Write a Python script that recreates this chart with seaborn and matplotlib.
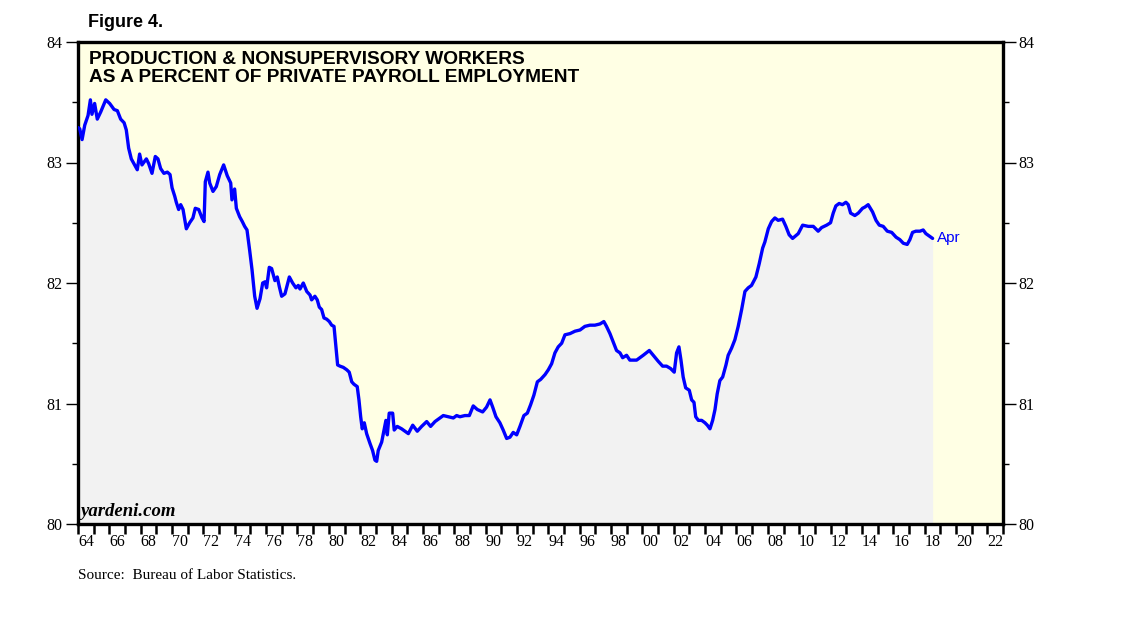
import matplotlib
matplotlib.use("Agg")
import matplotlib.pyplot as plt
import numpy as np
import pandas as pd
import seaborn as sns

# monthly-ish readings (fractional year, percent)
years = [
    1964.00, 1964.11, 1964.26, 1964.43, 1964.64, 1964.79, 1964.89, 1965.06, 1965.23, 1965.45,
    1965.77, 1966.02, 1966.30, 1966.51, 1966.72, 1966.94, 1967.08, 1967.23, 1967.40, 1967.61,
    1967.78, 1967.93, 1968.08, 1968.36, 1968.51, 1968.72, 1968.93, 1969.10, 1969.27, 1969.48,
    1969.70, 1969.87, 1970.00, 1970.17, 1970.27, 1970.42, 1970.55, 1970.70, 1970.91, 1971.12,
    1971.33, 1971.48, 1971.70, 1971.91, 1972.04, 1972.12, 1972.29, 1972.40, 1972.61, 1972.82,
    1973.04, 1973.29, 1973.52, 1973.74, 1973.82, 1973.99, 1974.10, 1974.31, 1974.48, 1974.63,
    1974.78, 1974.95, 1975.10, 1975.27, 1975.42, 1975.61, 1975.78, 1975.93, 1976.03, 1976.20,
    1976.35, 1976.56, 1976.71, 1976.84, 1976.99, 1977.20, 1977.48, 1977.69, 1977.90, 1978.05,
    1978.16, 1978.37, 1978.59, 1978.80, 1978.90, 1979.11, 1979.26, 1979.39, 1979.54, 1979.69,
    1979.86, 1980.03, 1980.18, 1980.33, 1980.45, 1980.56, 1980.71, 1980.92, 1981.14, 1981.30,
    1981.46, 1981.60, 1981.81, 1981.92, 1982.03, 1982.13, 1982.26, 1982.41, 1982.62, 1982.79,
    1982.94, 1983.05, 1983.15, 1983.37, 1983.52, 1983.64, 1983.73, 1983.85, 1984.07, 1984.17,
    1984.36, 1984.64, 1985.07, 1985.35, 1985.64, 1985.92, 1986.24, 1986.49, 1986.77, 1987.09,
    1987.30, 1987.62, 1987.94, 1988.15, 1988.36, 1988.68, 1988.96, 1989.21, 1989.47, 1989.81,
    1990.06, 1990.28, 1990.45, 1990.66, 1990.91, 1991.12, 1991.34, 1991.55, 1991.76, 1991.98,
    1992.19, 1992.44, 1992.66, 1992.87, 1993.08, 1993.30, 1993.51, 1993.79, 1994.00, 1994.21,
    1994.42, 1994.63, 1994.85, 1995.06, 1995.38, 1995.70, 1996.02, 1996.33, 1996.65, 1996.97,
    1997.29, 1997.54, 1997.71, 1997.93, 1998.14, 1998.35, 1998.57, 1998.74, 1998.99, 1999.20,
    1999.63, 2000.05, 2000.44, 2000.69, 2001.01, 2001.29, 2001.54, 2001.80, 2002.03, 2002.18,
    2002.33, 2002.46, 2002.60, 2002.76, 2002.99, 2003.14, 2003.29, 2003.40, 2003.57, 2003.78,
    2003.99, 2004.14, 2004.31, 2004.48, 2004.63, 2004.77, 2004.94, 2005.12, 2005.33, 2005.47,
    2005.69, 2005.90, 2006.11, 2006.33, 2006.54, 2006.75, 2006.96, 2007.24, 2007.45, 2007.67,
    2007.81, 2008.03, 2008.24, 2008.45, 2008.66, 2008.94, 2009.15, 2009.36, 2009.58, 2009.94,
    2010.22, 2010.58, 2010.90, 2011.21, 2011.43, 2011.75, 2012.00, 2012.17, 2012.34, 2012.55,
    2012.76, 2012.98, 2013.13, 2013.28, 2013.55, 2013.77, 2014.04, 2014.19, 2014.40, 2014.68,
    2014.90, 2015.11, 2015.36, 2015.62, 2015.90, 2016.18, 2016.42, 2016.64, 2016.89, 2017.06,
    2017.23, 2017.44, 2017.70, 2017.91, 2018.08, 2018.30, 2018.51,
]
pct = [
    83.29, 83.28, 83.19, 83.31, 83.39, 83.52, 83.40, 83.49, 83.36, 83.42,
    83.52, 83.49, 83.44, 83.43, 83.36, 83.33, 83.27, 83.12, 83.03, 82.98,
    82.94, 83.07, 82.98, 83.03, 82.99, 82.91, 83.05, 83.03, 82.95, 82.91,
    82.92, 82.90, 82.79, 82.72, 82.67, 82.61, 82.65, 82.61, 82.45, 82.50,
    82.54, 82.62, 82.61, 82.54, 82.51, 82.84, 82.92, 82.83, 82.76, 82.80,
    82.90, 82.98, 82.89, 82.83, 82.69, 82.78, 82.62, 82.55, 82.51, 82.47,
    82.44, 82.27, 82.11, 81.89, 81.79, 81.87, 82.00, 82.01, 81.96, 82.13,
    82.12, 82.02, 82.05, 81.97, 81.89, 81.91, 82.05, 82.00, 81.96, 81.98,
    81.95, 82.00, 81.93, 81.90, 81.86, 81.89, 81.86, 81.80, 81.78, 81.71,
    81.70, 81.68, 81.65, 81.64, 81.47, 81.32, 81.31, 81.30, 81.28, 81.26,
    81.18, 81.16, 81.14, 81.03, 80.89, 80.79, 80.84, 80.75, 80.67, 80.61,
    80.53, 80.52, 80.61, 80.68, 80.78, 80.86, 80.74, 80.92, 80.92, 80.78,
    80.81, 80.79, 80.75, 80.82, 80.77, 80.81, 80.85, 80.81, 80.85, 80.88,
    80.90, 80.89, 80.88, 80.90, 80.89, 80.90, 80.90, 80.98, 80.95, 80.93,
    80.97, 81.03, 80.97, 80.89, 80.84, 80.78, 80.71, 80.72, 80.76, 80.74,
    80.81, 80.90, 80.92, 80.99, 81.07, 81.18, 81.20, 81.24, 81.28, 81.33,
    81.42, 81.47, 81.50, 81.57, 81.58, 81.60, 81.61, 81.64, 81.65, 81.65,
    81.66, 81.68, 81.64, 81.58, 81.51, 81.44, 81.42, 81.38, 81.40, 81.36,
    81.36, 81.40, 81.44, 81.40, 81.35, 81.31, 81.31, 81.29, 81.26, 81.42,
    81.47, 81.36, 81.22, 81.13, 81.11, 81.03, 81.01, 80.89, 80.86, 80.86,
    80.84, 80.82, 80.79, 80.86, 80.95, 81.08, 81.19, 81.22, 81.32, 81.40,
    81.46, 81.53, 81.64, 81.78, 81.93, 81.96, 81.98, 82.05, 82.16, 82.29,
    82.34, 82.45, 82.51, 82.54, 82.52, 82.53, 82.47, 82.40, 82.37, 82.41,
    82.48, 82.47, 82.47, 82.43, 82.46, 82.48, 82.50, 82.58, 82.64, 82.66,
    82.65, 82.67, 82.65, 82.58, 82.56, 82.58, 82.62, 82.63, 82.65, 82.59,
    82.52, 82.48, 82.47, 82.43, 82.42, 82.38, 82.36, 82.33, 82.32, 82.36,
    82.42, 82.43, 82.43, 82.44, 82.41, 82.39, 82.37,
]
year_labels = ["64", "66", "68", "70", "72", "74", "76", "78", "80", "82", "84", "86", "88", "90",
               "92", "94", "96", "98", "00", "02", "04", "06", "08", "10", "12", "14", "16", "18",
               "20", "22"]
y_ticks = [80, 81, 82, 83, 84]

df = pd.DataFrame({"year": years, "pct": pct})

sns.set_theme(style="ticks")
plt.rcParams["font.family"] = ["Liberation Serif", "DejaVu Serif"]
plt.rcParams["text.color"] = "black"
plt.rcParams["xtick.color"] = "black"
plt.rcParams["ytick.color"] = "black"

fig = plt.figure(figsize=(11.38, 6.21), dpi=100)
ax = fig.add_axes([78 / 1138, 1 - 524 / 621, 925 / 1138, 482 / 621])
ax.set_facecolor("#ffffe4")

ax.fill_between(df["year"], 80, df["pct"], color="#f2f2f2", lw=0, zorder=1)
sns.lineplot(data=df, x="year", y="pct", color="#0000ff", lw=2.4, ax=ax, zorder=3)

ax.set_xlim(1964, 2023)
ax.set_ylim(80, 84)
ax.set_xlabel("")
ax.set_ylabel("")

# labels sit mid-year, tick marks at every year boundary
ax.set_xticks([1964.5 + 2 * i for i in range(len(year_labels))])
ax.set_xticklabels(year_labels)
ax.set_xticks(np.arange(1964, 2024), minor=True)
ax.tick_params(axis="x", which="major", length=0, pad=7, labelsize=11.5)
ax.tick_params(axis="x", which="minor", length=7, width=1.8, direction="out")

ax.set_yticks(y_ticks)
ax.set_yticks(np.arange(80.5, 84, 1.0), minor=True)
ax.tick_params(axis="y", which="major", length=9, width=1, left=True, right=True,
               labelleft=True, labelright=True, pad=2, labelsize=11.5)
ax.tick_params(axis="y", which="minor", length=4, width=1, left=True, right=True)

for sp in ax.spines.values():
    sp.set_visible(True)
    sp.set_linewidth(2.4)
    sp.set_color("black")

ax.text(0.012, 0.982, "PRODUCTION & NONSUPERVISORY WORKERS\nAS A PERCENT OF PRIVATE PAYROLL EMPLOYMENT",
        transform=ax.transAxes, ha="left", va="top", fontsize=13.8, fontweight="bold",
        family="Liberation Sans", linespacing=1.1, zorder=5)
ax.text(0.003, 0.008, "yardeni.com", transform=ax.transAxes, ha="left", va="bottom",
        fontsize=13.5, fontstyle="italic", fontweight="bold", zorder=5)
ax.text(years[-1] + 0.3, pct[-1], "Apr", color="#0000ff", ha="left", va="center",
        fontsize=11, family="Liberation Sans", zorder=5)

fig.text(88 / 1138, 1 - 14 / 621, "Figure 4.", ha="left", va="top", fontsize=13,
         fontweight="bold", family="Liberation Sans")
fig.text(78 / 1138, 1 - 582 / 621, "Source:  Bureau of Labor Statistics.", ha="left",
         va="bottom", fontsize=11)

fig.savefig("out.png", dpi=100, facecolor="white")
